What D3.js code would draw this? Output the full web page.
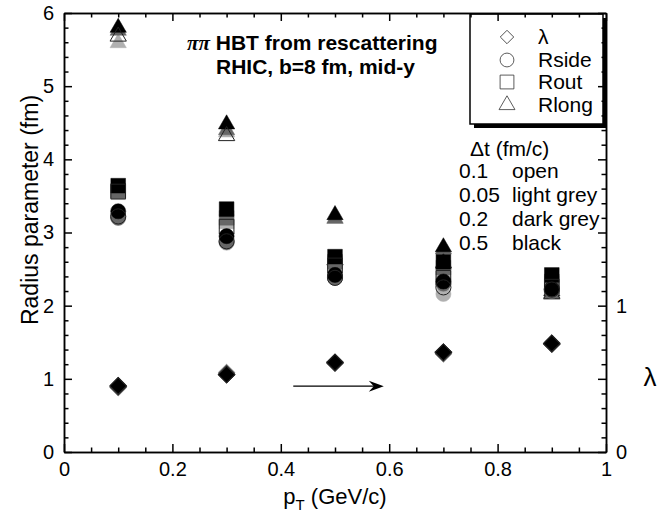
<!DOCTYPE html>
<html>
<head>
<meta charset="utf-8">
<script src="https://cdn.jsdelivr.net/npm/d3@7"></script>
<style>
  body { margin: 0; background: #fff; }
  svg { font-family: "Liberation Sans", Arial, Helvetica, sans-serif; }
</style>
</head>
<body>
<svg width="657" height="520"></svg>
<script>
// pT values (GeV/c)
const pT = [0.1, 0.3, 0.5, 0.7, 0.9];
// rows: dt = 0.1 (open), 0.05 (light grey), 0.2 (dark grey), 0.5 (black)
const dtValues = ["0.1", "0.05", "0.2", "0.5"];
const dtNames = ["open", "light grey", "dark grey", "black"];

// Radius parameters (fm), left axis
const rout = [
  [3.56, 3.08, 2.55, 2.38, 2.26],
  [3.55, 3.15, 2.58, 2.45, 2.30],
  [3.57, 3.20, 2.60, 2.52, 2.33],
  [3.64, 3.32, 2.67, 2.60, 2.42]
];
const rside = [
  [3.22, 2.88, 2.38, 2.25, 2.22],
  [3.22, 2.86, 2.40, 2.16, 2.21],
  [3.20, 2.87, 2.38, 2.30, 2.20],
  [3.29, 2.95, 2.42, 2.33, 2.23]
];
const rlong = [
  [5.68, 4.32, 2.62, 2.58, 2.16],
  [5.59, 4.37, 3.19, 2.56, 2.15],
  [5.76, 4.40, 3.19, 2.77, 2.17],
  [5.80, 4.48, 3.24, 2.80, 2.20]
];
// lambda, right axis
const lambda = [
  [0.45, 0.53, 0.61, 0.68, 0.74],
  [0.44, 0.545, 0.61, 0.675, 0.735],
  [0.44, 0.54, 0.605, 0.67, 0.735],
  [0.455, 0.527, 0.615, 0.685, 0.745]
];

const xTicks = [0, 0.2, 0.4, 0.6, 0.8, 1];
const yTicks = [0, 1, 2, 3, 4, 5, 6];
const lambdaTicks = [0, 1];

const legendNames = ["λ", "Rside", "Rout", "Rlong"];

const svg = d3.select("svg");

const x = d3.scaleLinear().domain([0, 1]).range([64, 606]);
const y = d3.scaleLinear().domain([0, 6]).range([452, 13]);
const yl = d3.scaleLinear().domain([0, 3]).range([452, 13]);

const fills = ["none", "#b0b0b0", "#666666", "#000000"];
const strokes = ["#222", "#b0b0b0", "#666666", "#000000"];

const shapes = {
  square: d3.symbol().type(d3.symbolSquare).size(215),
  circle: d3.symbol().type(d3.symbolCircle).size(180),
  triangle: d3.symbol().type(d3.symbolTriangle).size(115),
  diamond: d3.symbol().type(d3.symbolSquare).size(140)
};

// legend box (drawn first so the right axis sits over its edge)
const lg = svg.append("g");
lg.append("rect").attr("x", 474).attr("y", 18).attr("width", 133).attr("height", 110).attr("fill", "#000");
lg.append("rect").attr("x", 470).attr("y", 14).attr("width", 133).attr("height", 110)
  .attr("fill", "#fff").attr("stroke", "#000").attr("stroke-width", 1.5);

const legShapes = ["diamond", "circle", "square", "triangle"];
const legRows = [37, 60, 82, 105];
legShapes.forEach((s, i) => {
  const sz = { diamond: 90, circle: 150, square: 190, triangle: 110 }[s];
  const t = s === "diamond" ? d3.symbolSquare : s === "circle" ? d3.symbolCircle : s === "square" ? d3.symbolSquare : d3.symbolTriangle;
  lg.append("path")
    .attr("d", d3.symbol().type(t).size(sz)())
    .attr("transform", `translate(507,${legRows[i]})` + (s === "diamond" ? " rotate(45)" : ""))
    .attr("fill", "none").attr("stroke", "#333").attr("stroke-width", 0.8);
  lg.append("text").attr("x", 538).attr("y", legRows[i] + 7)
    .attr("font-size", 21).text(legendNames[i]);
});

// axes
function axisStyle(g) {
  g.selectAll("path, line").attr("stroke", "#000").attr("stroke-width", 1.5);
  g.selectAll("text").attr("font-size", 20).attr("fill", "#000")
    .style("font-family", "'Liberation Sans', Arial, sans-serif");
}
const minorX = d3.range(0, 21).map(i => i * 0.05).filter((d, i) => i % 4 !== 0);
const minorY = d3.range(0, 31).map(i => i * 0.2).filter((d, i) => i % 5 !== 0);
const minorL = d3.range(0, 31).map(i => i * 0.1).filter((d, i) => i % 5 !== 0);
const fmt = d3.format("~g");

svg.append("g").attr("transform", "translate(0,452)")
  .call(d3.axisBottom(x).tickValues(xTicks).tickSizeInner(-8).tickSizeOuter(0).tickPadding(10).tickFormat(fmt))
  .call(axisStyle);
svg.append("g").attr("transform", "translate(0,452)")
  .call(d3.axisBottom(x).tickValues(minorX).tickSizeInner(-4.5).tickSizeOuter(0).tickFormat(""))
  .call(axisStyle);
svg.append("g").attr("transform", "translate(0,13)")
  .call(d3.axisTop(x).tickValues(xTicks).tickSizeInner(-8).tickSizeOuter(0).tickFormat(""))
  .call(axisStyle);
svg.append("g").attr("transform", "translate(0,13)")
  .call(d3.axisTop(x).tickValues(minorX).tickSizeInner(-4.5).tickSizeOuter(0).tickFormat(""))
  .call(axisStyle);
svg.append("g").attr("transform", "translate(64,0)")
  .call(d3.axisLeft(y).tickValues(yTicks).tickSizeInner(-8).tickSizeOuter(0).tickPadding(10).tickFormat(fmt))
  .call(axisStyle);
svg.append("g").attr("transform", "translate(64,0)")
  .call(d3.axisLeft(y).tickValues(minorY).tickSizeInner(-4.5).tickSizeOuter(0).tickFormat(""))
  .call(axisStyle);
svg.append("g").attr("transform", "translate(606,0)")
  .call(d3.axisRight(yl).tickValues([0, 0.5, 1, 1.5, 2, 2.5, 3]).tickSizeInner(-8).tickSizeOuter(0).tickPadding(10)
    .tickFormat(d => lambdaTicks.includes(d) ? fmt(d) : ""))
  .call(axisStyle);
svg.append("g").attr("transform", "translate(606,0)")
  .call(d3.axisRight(yl).tickValues(minorL).tickSizeInner(-4.5).tickSizeOuter(0).tickFormat(""))
  .call(axisStyle);

// axis titles
svg.append("text").attr("transform", "translate(38,210) rotate(-90)")
  .attr("text-anchor", "middle").attr("font-size", 23).text("Radius parameter (fm)");
const xt = svg.append("text").attr("x", 335).attr("y", 504).attr("text-anchor", "middle").attr("font-size", 22);
xt.append("tspan").text("p");
xt.append("tspan").attr("font-size", 15).attr("dy", 6).text("T");
xt.append("tspan").attr("dy", -6).text(" (GeV/c)");
svg.append("text").attr("x", 650).attr("y", 386).attr("text-anchor", "middle").attr("font-size", 26).text("λ");

// title
const t1 = svg.append("text").attr("x", 187).attr("y", 50).attr("font-size", 21).attr("font-weight", "bold");
t1.append("tspan").attr("font-family", "'Liberation Serif', serif").attr("font-style", "italic").text("ππ");
t1.append("tspan").text(" HBT from rescattering");
svg.append("text").attr("x", 216).attr("y", 74).attr("font-size", 21).attr("font-weight", "bold")
  .text("RHIC, b=8 fm, mid-y");

// dt annotation
svg.append("text").attr("x", 470).attr("y", 156).attr("font-size", 21).text("Δt (fm/c)");
dtValues.forEach((v, i) => {
  svg.append("text").attr("x", 459).attr("y", 178 + i * 24).attr("font-size", 21).text(v);
  svg.append("text").attr("x", 512).attr("y", 178 + i * 24).attr("font-size", 21).text(dtNames[i]);
});

// data markers: filled greys/black first, open outlines on top
function drawSeries(vals, shape, scale, rot) {
  const order = [1, 2, 3, 0];
  order.forEach(k => {
    svg.append("g").selectAll("path")
      .data(vals[k].map((v, j) => [pT[j], v]))
      .join("path")
      .attr("d", shapes[shape]())
      .attr("transform", d => `translate(${x(d[0])},${scale(d[1])})` + (rot ? " rotate(45)" : ""))
      .attr("fill", fills[k])
      .attr("stroke", strokes[k])
      .attr("stroke-width", k === 0 ? 1 : 0.5);
  });
}
drawSeries(lambda, "diamond", yl, true);
drawSeries(rlong, "triangle", y, false);
drawSeries(rout, "square", y, false);
drawSeries(rside, "circle", y, false);

// arrow pointing towards the lambda axis
const arrowFrom = [0.423, 0.9];
const arrowTo = [0.59, 0.9];
const ax0 = x(arrowFrom[0]), ax1 = x(arrowTo[0]), ay = y(arrowFrom[1]);
svg.append("line").attr("x1", ax0).attr("y1", ay).attr("x2", ax1 - 6).attr("y2", ay)
  .attr("stroke", "#000").attr("stroke-width", 1.2);
svg.append("path")
  .attr("d", `M${ax1},${ay} L${ax1 - 15},${ay - 5.5} L${ax1 - 10},${ay} L${ax1 - 15},${ay + 5.5} Z`)
  .attr("fill", "#000");
</script>
</body>
</html>
